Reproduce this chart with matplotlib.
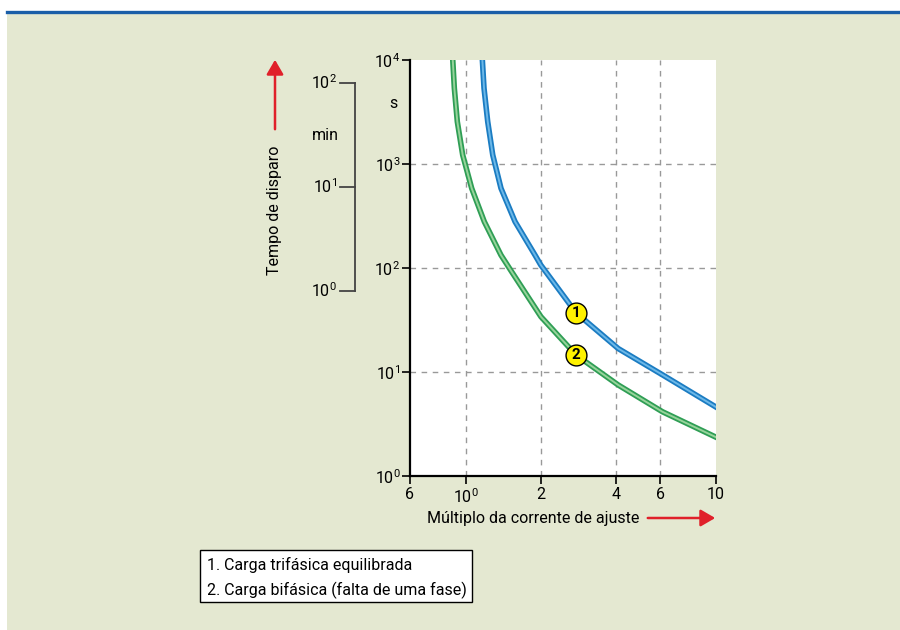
import matplotlib
matplotlib.use("Agg")
import matplotlib.pyplot as plt
from matplotlib.patches import Rectangle, FancyArrowPatch
import matplotlib.transforms as mtransforms

# ---- data ----
blue_x = [1.167, 1.185, 1.226, 1.284, 1.385, 1.576, 1.894, 1.996, 2.76, 4.07, 6.11, 10.0]
blue_t = [10000, 5346, 2553, 1221, 584, 279, 133, 107, 37.2, 16.8, 9.4, 4.6]
green_x = [0.889, 0.902, 0.927, 0.974, 1.058, 1.188, 1.385, 1.528, 2.0, 2.76, 4.07, 6.11, 10.0]
green_t = [10000, 5346, 2553, 1221, 584, 279, 133, 92, 34, 14.6, 7.5, 4.15, 2.36]
x_ticks = [0.6, 1, 2, 4, 6, 10]
x_ticklabels = ["6", r"$10^{0}$", "2", "4", "6", "10"]
y_ticks = [1, 10, 100, 1000, 10000]
y_ticklabels = [r"$10^{0}$", r"$10^{1}$", r"$10^{2}$", r"$10^{3}$", r"$10^{4}$"]
min_ticks = [1, 10, 100]
min_ticklabels = [r"$10^{0}$", r"$10^{1}$", r"$10^{2}$"]
marker_labels = ["1", "2"]
marker_x = [2.76, 2.76]
marker_t = [37.2, 14.6]
legend_lines = ["1. Carga trifásica equilibrada", "2. Carga bifásica (falta de uma fase)"]

FONT = ["Roboto", "DejaVu Sans"]
plt.rcParams["font.family"] = FONT
plt.rcParams["mathtext.fontset"] = "custom"
plt.rcParams["mathtext.rm"] = "Roboto"
plt.rcParams["mathtext.it"] = "Roboto"
FS = 11.5

W, H = 900, 630
fig = plt.figure(figsize=(9, 6.3), dpi=100, facecolor="white")

# background layer
bg = fig.add_axes([0, 0, 1, 1], zorder=-10)
bg.set_xlim(0, W)
bg.set_ylim(H, 0)
bg.axis("off")
BG = "#e4e8d1"
bg.add_patch(Rectangle((7, 14), W - 7, H - 14, facecolor=BG, edgecolor="none"))
bg.plot([7, W], [12, 12], color="#1a5ea8", linewidth=2.4)
# legend box
bg.add_patch(Rectangle((200, 550), 272, 52, facecolor="white", edgecolor="black", linewidth=1.0))
for i, line in enumerate(legend_lines):
    bg.text(207, 565 + 25 * i, line, ha="left", va="center", fontsize=FS)
# arrows
bg.add_patch(FancyArrowPatch((275, 132), (275, 57), arrowstyle="-|>,head_length=5.5,head_width=3.2",
                             color="#e0202a", linewidth=1.8, mutation_scale=1.6))
bg.add_patch(FancyArrowPatch((645, 518), (718, 518), arrowstyle="-|>,head_length=5.5,head_width=3.2",
                             color="#e0202a", linewidth=1.8, mutation_scale=1.6))
bg.text(275, 210, "Tempo de disparo", rotation=90, ha="center", va="center", fontsize=FS)
bg.text(533, 519, "Múltiplo da corrente de ajuste", ha="center", va="center", fontsize=FS)

ax = fig.add_axes([410 / W, 1 - 476 / H, 306 / W, 416 / H], zorder=1)
ax.set_facecolor("white")
ax.set_xscale("log")
ax.set_yscale("log")
ax.set_xlim(0.6, 10)
ax.set_ylim(1, 10000)

for xv in [1, 2, 4, 6]:
    ax.axvline(xv, color="#999999", linestyle=(0, (4, 4)), linewidth=1.0, zorder=1)
for yv in [10, 100, 1000]:
    ax.axhline(yv, color="#999999", linestyle=(0, (4, 4)), linewidth=1.0, zorder=1)

# curves: two-tone look
ax.plot(blue_x, blue_t, color="#1b7cc2", linewidth=4.0, solid_joinstyle="round", zorder=3)
ax.plot(blue_x, blue_t, color="#6cb8e8", linewidth=1.4, solid_joinstyle="round", zorder=4)
ax.plot(green_x, green_t, color="#2f9e55", linewidth=4.0, solid_joinstyle="round", zorder=3)
ax.plot(green_x, green_t, color="#97d49b", linewidth=1.4, solid_joinstyle="round", zorder=4)

for lab, mx, mt in zip(marker_labels, marker_x, marker_t):
    ax.plot([mx], [mt], marker="o", markersize=15, markerfacecolor="#fff200",
            markeredgecolor="black", markeredgewidth=1.0, zorder=5)
    ax.text(mx, mt, lab, ha="center", va="center", fontsize=11, fontweight="bold", zorder=6)

for side in ["top", "right"]:
    ax.spines[side].set_visible(False)
for side in ["left", "bottom"]:
    ax.spines[side].set_linewidth(1.6)
    ax.spines[side].set_color("black")

ax.set_xticks(x_ticks)
ax.set_xticklabels(x_ticklabels)
ax.xaxis.set_minor_locator(matplotlib.ticker.NullLocator())
ax.set_yticks(y_ticks)
ax.set_yticklabels(y_ticklabels)
ax.yaxis.set_minor_locator(matplotlib.ticker.NullLocator())
ax.tick_params(axis="both", direction="out", length=6, width=1.2, labelsize=FS, pad=2,
               colors="black")
ax.tick_params(axis="y", pad=1)

bt = mtransforms.blended_transform_factory(ax.transAxes, ax.transData)
# 's' unit label
ax.text(-0.055, 3800, "s", transform=bt, ha="center", va="center", fontsize=FS)

# minutes bracket scale
xb0, xb1 = (340 - 410) / 306, (355 - 410) / 306
sec = [m * 60 for m in min_ticks]
ax.plot([xb1, xb1], [sec[0], sec[-1]], transform=bt, color="#444444", linewidth=1.3, clip_on=False)
for s, lab in zip(sec, min_ticklabels):
    ax.plot([xb0, xb1], [s, s], transform=bt, color="#444444", linewidth=1.3, clip_on=False)
    ax.text(xb0 - 0.01, s, lab, transform=bt, ha="right", va="center", fontsize=FS)
ax.text((325 - 410) / 306, 1900, "min", transform=bt, ha="center", va="center", fontsize=FS)

fig.savefig("out.png", dpi=100, facecolor="white")
